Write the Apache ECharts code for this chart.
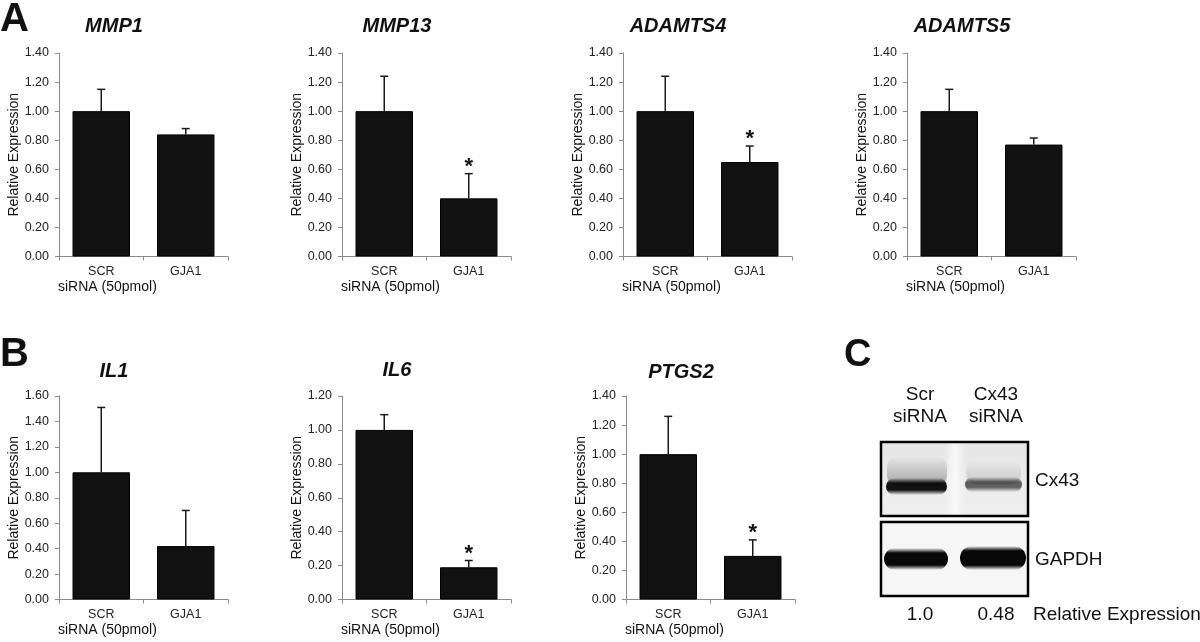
<!DOCTYPE html>
<html>
<head>
<meta charset="utf-8">
<script src="https://cdn.jsdelivr.net/npm/echarts@6/dist/echarts.min.js"></script>
<style>
html,body{margin:0;padding:0;background:#fff;}
#chart{width:1200px;height:642px;}
</style>
</head>
<body>
<div id="chart"></div>
<script>
// ---------------- data ----------------
const categories = ['SCR', 'GJA1'];
const genes = ['MMP1', 'MMP13', 'ADAMTS4', 'ADAMTS5', 'IL1', 'IL6', 'PTGS2'];
const meanSCR  = [1.00, 1.00, 1.00, 1.00, 1.00, 1.00, 1.00];
const meanGJA1 = [0.84, 0.40, 0.65, 0.77, 0.42, 0.19, 0.30];
const errSCR   = [0.15, 0.24, 0.24, 0.15, 0.51, 0.09, 0.26];
const errGJA1  = [0.04, 0.17, 0.11, 0.045, 0.28, 0.04, 0.11];
const starGJA1 = [0, 1, 1, 0, 0, 1, 1];
const axisMax  = [1.4, 1.4, 1.4, 1.4, 1.6, 1.2, 1.4];
const yTickStep = 0.2;
const yAxisName = 'Relative Expression';
const xAxisName = 'siRNA (50pmol)';
const panelLetters = ['A', 'B', 'C'];
const blotLanes = ['Scr\nsiRNA', 'Cx43\nsiRNA'];
const blotProteins = ['Cx43', 'GAPDH'];
const blotRelExpr = ['1.0', '0.48'];
const blotRelLabel = 'Relative Expression';

// ---------------- layout ----------------
const FONT = '"Liberation Sans", Arial, Helvetica, sans-serif';
const W = 169, H = 203.5;
const layout = [
  {l: 59, t: 53}, {l: 342, t: 53}, {l: 623, t: 53}, {l: 907, t: 53},
  {l: 59, t: 396}, {l: 342, t: 396}, {l: 626, t: 396}
];
const titleY = [26, 26, 26, 26, 371, 370, 372];
const AX = '#8a8a8a';

const option = {
  animation: false,
  backgroundColor: '#ffffff',
  grid: [], xAxis: [], yAxis: [], series: [], graphic: []
};

function txt(x, y, text, font, align, vAlign, extra) {
  return Object.assign({
    type: 'text', x: x, y: y, silent: true,
    style: {
      text: text, font: font, fill: '#111',
      align: align, textAlign: align,
      verticalAlign: vAlign, textVerticalAlign: vAlign
    }
  }, extra || {});
}

genes.forEach((g, k) => {
  const L = layout[k];
  option.grid.push({left: L.l, top: L.t, width: W, height: H, containLabel: false});
  option.xAxis.push({
    type: 'category', gridIndex: k, data: categories,
    axisLine: {lineStyle: {color: AX, width: 1}},
    axisTick: {show: true, length: 4, lineStyle: {color: AX}},
    axisLabel: {fontSize: 12.5, color: '#222', margin: 9, fontFamily: FONT},
    splitLine: {show: false}
  });
  option.yAxis.push({
    type: 'value', gridIndex: k, min: 0, max: axisMax[k], interval: yTickStep,
    axisLine: {show: true, lineStyle: {color: AX, width: 1}},
    axisTick: {show: true, length: 4, lineStyle: {color: AX}},
    axisLabel: {fontSize: 12.5, color: '#222', margin: 10, fontFamily: FONT,
      formatter: v => v.toFixed(2)},
    splitLine: {show: false}
  });
  const means = [meanSCR[k], meanGJA1[k]];
  const errs = [errSCR[k], errGJA1[k]];
  const stars = [0, starGJA1[k]];
  option.series.push({
    type: 'bar', xAxisIndex: k, yAxisIndex: k, data: means,
    barWidth: '68%', silent: true,
    itemStyle: {color: '#111', borderColor: '#000', borderWidth: 1}
  });
  option.series.push({
    type: 'custom', xAxisIndex: k, yAxisIndex: k, z: 5, silent: true,
    data: means.map((m, i) => [i, m, m + errs[i], stars[i]]),
    renderItem: function (params, api) {
      const i = api.value(0), v = api.value(1), top = api.value(2), st = api.value(3);
      const p0 = api.coord([i, v]);
      const p1 = api.coord([i, top]);
      const st0 = {stroke: '#1a1a1a', lineWidth: 1.5};
      const children = [
        {type: 'line', shape: {x1: p0[0], y1: p0[1], x2: p1[0], y2: p1[1]}, style: st0},
        {type: 'line', shape: {x1: p0[0] - 4, y1: p1[1], x2: p0[0] + 4, y2: p1[1]}, style: st0}
      ];
      if (st) {
        children.push({type: 'text', x: p0[0], y: p1[1] - 7,
          style: {text: '*', font: 'bold 22px ' + FONT, fill: '#111',
            align: 'center', verticalAlign: 'middle', textAlign: 'center', textVerticalAlign: 'middle'}});
      }
      return {type: 'group', children: children};
    }
  });
  // title
  option.graphic.push(txt(L.l + 55, titleY[k], g, 'italic bold 20px ' + FONT, 'center', 'middle'));
  // y axis name
  option.graphic.push(txt(L.l - 45, L.t + H / 2, yAxisName, '14px ' + FONT, 'center', 'middle',
    {rotation: Math.PI / 2}));
  // x axis name
  option.graphic.push(txt(L.l - 1, L.t + H + 31, xAxisName, '14px ' + FONT, 'left', 'middle'));
});

// panel letters
option.graphic.push(txt(0, 20, panelLetters[0], 'bold 40px ' + FONT, 'left', 'middle'));
option.graphic.push(txt(0, 355, panelLetters[1], 'bold 40px ' + FONT, 'left', 'middle'));
option.graphic.push(txt(844, 356, panelLetters[2], 'bold 38px ' + FONT, 'left', 'middle'));

// ---------------- western blot (panel C) ----------------
const laneX = [920, 996];
const BF = '19px ' + FONT;
blotLanes.forEach((s, i) => {
  const parts = s.split('\n');
  option.graphic.push(txt(laneX[i], 395, parts[0], BF, 'center', 'middle'));
  option.graphic.push(txt(laneX[i], 417, parts[1], BF, 'center', 'middle'));
});
option.graphic.push(txt(1035, 481, blotProteins[0], BF, 'left', 'middle'));
option.graphic.push(txt(1035, 560, blotProteins[1], BF, 'left', 'middle'));
option.graphic.push(txt(laneX[0], 615, blotRelExpr[0], BF, 'center', 'middle'));
option.graphic.push(txt(laneX[1], 615, blotRelExpr[1], BF, 'center', 'middle'));
option.graphic.push(txt(1033, 615, blotRelLabel, BF, 'left', 'middle'));

function vgrad(stops) {
  return {type: 'linear', x: 0, y: 0, x2: 0, y2: 1,
    colorStops: stops.map(s => ({offset: s[0], color: s[1]}))};
}
function hgrad(stops) {
  return {type: 'linear', x: 0, y: 0, x2: 1, y2: 0,
    colorStops: stops.map(s => ({offset: s[0], color: s[1]}))};
}
function band(x, y, w, h, a, core) {
  const c = 'rgba(0,0,0,' + a + ')';
  return {type: 'rect', shape: {x: x, y: y, width: w, height: h, r: h / 2},
    style: {fill: vgrad([[0, 'rgba(0,0,0,0)'], [0.5 - core / 2, c], [0.5 + core / 2, c], [1, 'rgba(0,0,0,0)']])}};
}

const blot = [
  // box backgrounds
  {type: 'rect', shape: {x: 881, y: 442, width: 147, height: 74}, style: {fill: vgrad([[0, '#e6e6e6'], [1, '#efefef']])}},
  {type: 'rect', shape: {x: 944, y: 443, width: 22, height: 72},
    style: {fill: hgrad([[0, 'rgba(250,250,250,0)'], [0.5, 'rgba(250,250,250,0.9)'], [1, 'rgba(250,250,250,0)']])}},
  {type: 'rect', shape: {x: 881, y: 522, width: 147, height: 74}, style: {fill: '#f6f6f6'}},
  // Cx43 lane 1: smear + core
  {type: 'rect', shape: {x: 887, y: 456, width: 60, height: 30, r: 10},
    style: {fill: vgrad([[0, 'rgba(0,0,0,0)'], [1, 'rgba(0,0,0,0.30)']])}},
  band(886, 478, 61, 17, 0.92, 0.4),
  // Cx43 lane 2: smear + core
  {type: 'rect', shape: {x: 966, y: 460, width: 55, height: 24, r: 10},
    style: {fill: vgrad([[0, 'rgba(0,0,0,0)'], [1, 'rgba(0,0,0,0.14)']])}},
  band(965, 477, 57, 15, 0.6, 0.35),
  // GAPDH
  band(884, 548, 64, 22, 0.97, 0.55),
  band(960, 546, 66, 24, 0.97, 0.6),
  // borders
  {type: 'rect', shape: {x: 881, y: 442, width: 147, height: 74}, style: {fill: 'none', stroke: '#000', lineWidth: 2.5}},
  {type: 'rect', shape: {x: 881, y: 522, width: 147, height: 74}, style: {fill: 'none', stroke: '#000', lineWidth: 2.5}}
];
blot.forEach(b => { b.silent = true; option.graphic.push(b); });

const chart = echarts.init(document.getElementById('chart'), null, {renderer: 'canvas'});
chart.setOption(option);
</script>
</body>
</html>
